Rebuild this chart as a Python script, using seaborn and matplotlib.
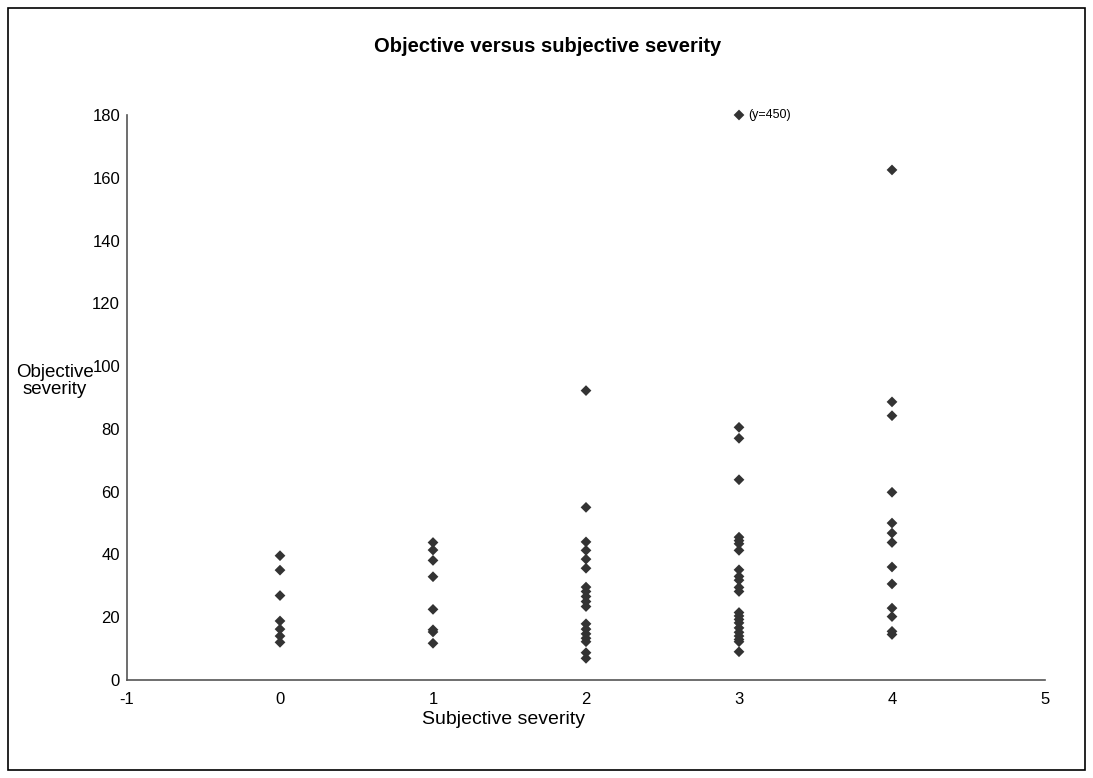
import numpy as np
import pandas as pd
import matplotlib
matplotlib.use("Agg")
import matplotlib.pyplot as plt
import seaborn as sns
from matplotlib.patches import Rectangle

# ---- data ----
subj_0 = [39.6, 35.0, 26.9, 18.8, 16.2, 14.0, 12.0]
subj_1 = [43.8, 41.4, 38.1, 32.9, 22.5, 16.0, 15.3, 11.7]
subj_2 = [92.2, 55.0, 44.0, 41.3, 38.5, 35.6, 29.6, 28.2, 26.6, 25.0, 23.4,
          17.9, 16.2, 14.7, 13.3, 12.2, 8.7, 6.9]
subj_3 = [450.0, 80.5, 77.0, 63.8, 45.5, 44.4, 43.4, 41.3, 35.1, 33.0, 31.8,
          29.5, 28.2, 21.5, 20.4, 19.3, 18.2, 16.6, 15.2, 14.0, 12.9, 12.2, 9.0]
subj_4 = [162.5, 88.6, 84.2, 59.8, 50.0, 46.8, 43.8, 36.0, 30.6, 22.9, 20.2,
          15.5, 14.5]
x_ticks = [-1, 0, 1, 2, 3, 4, 5]
y_ticks = [0, 20, 40, 60, 80, 100, 120, 140, 160, 180]
y_cap = 180  # values above the axis top are drawn at the top and labelled

title = "Objective versus subjective severity"
x_label = "Subjective severity"
y_label = "Objective\nseverity"

groups = {0: subj_0, 1: subj_1, 2: subj_2, 3: subj_3, 4: subj_4}
rows = []
for k, vals in groups.items():
    for v in vals:
        rows.append({"subjective": k, "objective": v,
                     "shown": min(v, y_cap)})
df = pd.DataFrame(rows)

sns.set_style("white")
plt.rcParams["font.family"] = ["Liberation Sans", "DejaVu Sans"]

W, H = 1093, 778
fig = plt.figure(figsize=(W / 100, H / 100), dpi=100)
fig.patch.set_facecolor("white")
ax = fig.add_axes([127 / W, 1 - 680 / H, (1045 - 127) / W, (680 - 115) / H])

sns.scatterplot(data=df, x="subjective", y="shown", marker="D", s=30,
                color="#333333", edgecolor="none", linewidth=0, ax=ax,
                legend=False, clip_on=False, zorder=3)

# label for the off-scale point
off = df[df["objective"] > y_cap]
for _, r in off.iterrows():
    ax.annotate(f"(y={r['objective']:.0f})", (r["subjective"], r["shown"]),
                xytext=(7, 0), textcoords="offset points", va="center",
                ha="left", fontsize=9, color="black")

ax.set_xlim(-1, 5)
ax.set_ylim(0, 180)
ax.set_xticks(x_ticks)
ax.set_yticks(y_ticks)
ax.set_xticklabels([str(t) for t in x_ticks])
ax.set_yticklabels([str(t) for t in y_ticks])
ax.tick_params(axis="both", direction="out", length=4, width=1,
               color="#555555", labelsize=12, labelcolor="black")
ax.tick_params(axis="x", pad=5)
ax.tick_params(axis="y", pad=1)
for s in ["top", "right"]:
    ax.spines[s].set_visible(False)
for s in ["left", "bottom"]:
    ax.spines[s].set_color("#555555")
    ax.spines[s].set_linewidth(1.2)
ax.set_xlabel("")
ax.set_ylabel("")

fig.text(548 / W, 1 - 46 / H, title, ha="center", va="center",
         fontsize=14.5, fontweight="bold", color="black")
fig.text(503 / W, 1 - 719 / H, x_label, ha="center", va="center",
         fontsize=14, color="black")
fig.text(55 / W, 1 - 381 / H, y_label, ha="center", va="center",
         fontsize=13.5, linespacing=1.0, color="black")

fig.patches.append(Rectangle((8 / W, 8 / H), (1085 - 8) / W, (770 - 8) / H,
                             transform=fig.transFigure, fill=False,
                             edgecolor="black", linewidth=1.2))

fig.savefig("out.png", dpi=100)
